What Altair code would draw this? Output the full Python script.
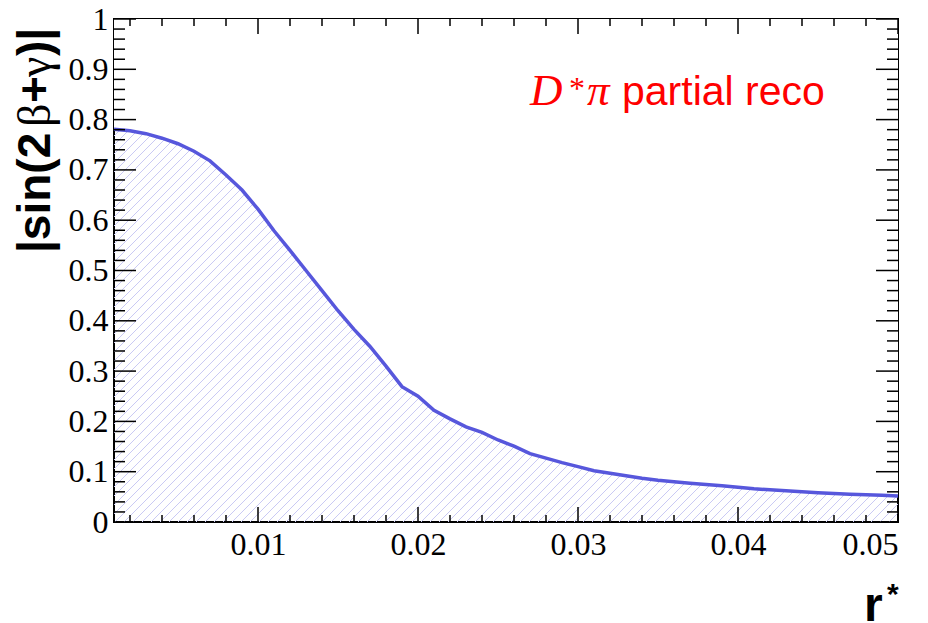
import altair as alt
import numpy as np
import pandas as pd

# |sin(2beta+gamma)| versus r* for D*pi partial reconstruction
r_star = [0.001, 0.002, 0.003, 0.004, 0.005, 0.006, 0.007, 0.008, 0.009, 0.010,
          0.011, 0.012, 0.013, 0.014, 0.015, 0.016, 0.017, 0.018, 0.019, 0.020,
          0.021, 0.022, 0.023, 0.024, 0.025, 0.026, 0.027, 0.028, 0.029, 0.030,
          0.031, 0.032, 0.033, 0.034, 0.035, 0.036, 0.037, 0.038, 0.039, 0.040,
          0.041, 0.042, 0.043, 0.044, 0.045, 0.046, 0.047, 0.048, 0.049, 0.050]
sin_limit = [0.781, 0.778, 0.772, 0.763, 0.752, 0.737, 0.718, 0.690, 0.660, 0.622,
             0.579, 0.540, 0.500, 0.460, 0.420, 0.383, 0.349, 0.310, 0.269, 0.250,
             0.222, 0.205, 0.189, 0.178, 0.163, 0.151, 0.136, 0.127, 0.118, 0.110,
             0.102, 0.097, 0.092, 0.087, 0.083, 0.080, 0.077, 0.0745, 0.072, 0.069,
             0.066, 0.064, 0.062, 0.060, 0.058, 0.0565, 0.055, 0.054, 0.053, 0.0515]

x_major = [0.01, 0.02, 0.03, 0.04, 0.05]
y_major = [0.0, 0.1, 0.2, 0.3, 0.4, 0.5, 0.6, 0.7, 0.8, 0.9, 1.0]

X_MIN, X_MAX = 0.001, 0.05
W, H = 784, 503
LINE_COLOR = "#5757dc"
HATCH_COLOR = "#cacaf4"
LABEL_FONT = "Liberation Serif"

x_minor = [v for v in np.round(np.arange(0.002, 0.0501, 0.002), 4) if round(v * 100, 6) % 1 != 0]
y_minor = [v for v in np.round(np.arange(0.02, 1.0, 0.02), 3) if round(v * 10, 6) % 1 != 0]

curve = pd.DataFrame({"r": r_star, "s": sin_limit})

xs = alt.Scale(domain=[X_MIN, X_MAX], nice=False, zero=False)
ys = alt.Scale(domain=[0, 1], nice=False)

# one shared axis definition per channel, repeated in every layer so they merge cleanly
AX = alt.Axis(values=x_major, format=".2f", ticks=False, domain=False, grid=False,
              labelFont=LABEL_FONT, labelFontSize=32, labelPadding=7, title=None)
AY = alt.Axis(values=y_major, format=".1~f", ticks=False, domain=False, grid=False,
              labelFont=LABEL_FONT, labelFontSize=32, labelPadding=6, title=None)


def X(field):
    return alt.X(field, type="quantitative", scale=xs, axis=AX)


def Y(field):
    return alt.Y(field, type="quantitative", scale=ys, axis=AY)


# 45-degree hatch lines across the frame; the region above the curve is masked in white
step = 9 * (X_MAX - X_MIN) / W
span = H * (X_MAX - X_MIN) / W
starts = np.arange(X_MIN - span, X_MAX + step, step)
hatch_df = pd.DataFrame({"x0": starts, "x1": starts + span, "y0": 0.0, "y1": 1.0})
hatch = alt.Chart(hatch_df).mark_rule(color=HATCH_COLOR, strokeWidth=1, clip=True).encode(
    x=X("x0"), x2="x1", y=Y("y0"), y2="y1",
)

mask = alt.Chart(curve).mark_area(color="white", opacity=1, clip=True).encode(
    x=X("r"), y=Y("s"), y2=alt.datum(1),
)

line = alt.Chart(curve).mark_line(color=LINE_COLOR, strokeWidth=3.5).encode(
    x=X("r"), y=Y("s"),
)


def x_ticks(values, length):
    df = pd.DataFrame({"t": values})
    base = alt.Chart(df).mark_rule(color="black", strokeWidth=1.5)
    return [base.encode(x=X("t"), y=alt.value(H), y2=alt.value(H - length)),
            base.encode(x=X("t"), y=alt.value(0), y2=alt.value(length))]


def y_ticks(values, length):
    df = pd.DataFrame({"t": values})
    base = alt.Chart(df).mark_rule(color="black", strokeWidth=1.5)
    return [base.encode(y=Y("t"), x=alt.value(0), x2=alt.value(length)),
            base.encode(y=Y("t"), x=alt.value(W), x2=alt.value(W - length))]


ticks = x_ticks(x_major, 15) + x_ticks(x_minor, 7) + y_ticks(y_major, 22) + y_ticks(y_minor, 11)

one = pd.DataFrame({"k": [0]})


def label(text, x, y, size, font="Liberation Sans", weight="normal", style="normal",
          color="black", align="left", baseline="alphabetic", angle=0):
    return alt.Chart(one).mark_text(
        text=text, font=font, fontSize=size, fontWeight=weight, fontStyle=style,
        color=color, align=align, baseline=baseline, angle=angle,
    ).encode(x=alt.value(x), y=alt.value(y))


# y title, read bottom-to-top: bold sans pieces with serif Greek letters
TX = -64
TS = 46
texts = [
    label("|sin(2", TX, 234, TS, weight="bold", angle=270),
    label("β", TX, 108, TS, font="Liberation Serif", angle=270),
    label("+", TX, 84, TS, weight="bold", angle=270),
    label("γ", TX, 58, TS, font="Liberation Serif", angle=270),
    label(")|", TX, 37, TS, weight="bold", angle=270),
    label("r", 750, 602, 48, weight="bold"),
    label("*", 773, 585, 30, weight="bold"),
    label("D", 416, 86, 45, font="Liberation Serif", style="italic", color="red"),
    label("*", 455, 80, 32, font="Liberation Serif", color="red"),
    label("π", 473, 86, 45, font="Liberation Serif", style="italic", color="red"),
    label("partial reco", 508, 86, 41, color="red"),
]

chart = alt.layer(hatch, mask, line, *ticks, *texts).properties(
    width=W, height=H,
    background="white",
    autosize=alt.AutoSizeParams(type="none"),
    padding={"left": 114, "top": 19, "right": 30, "bottom": 101},
).configure_view(
    stroke="black", strokeWidth=2
).configure_axis(
    labelFont=LABEL_FONT, labelFontSize=32, labelColor="black"
)

chart.save("out.html", embed_options={"renderer": "svg", "actions": False})
